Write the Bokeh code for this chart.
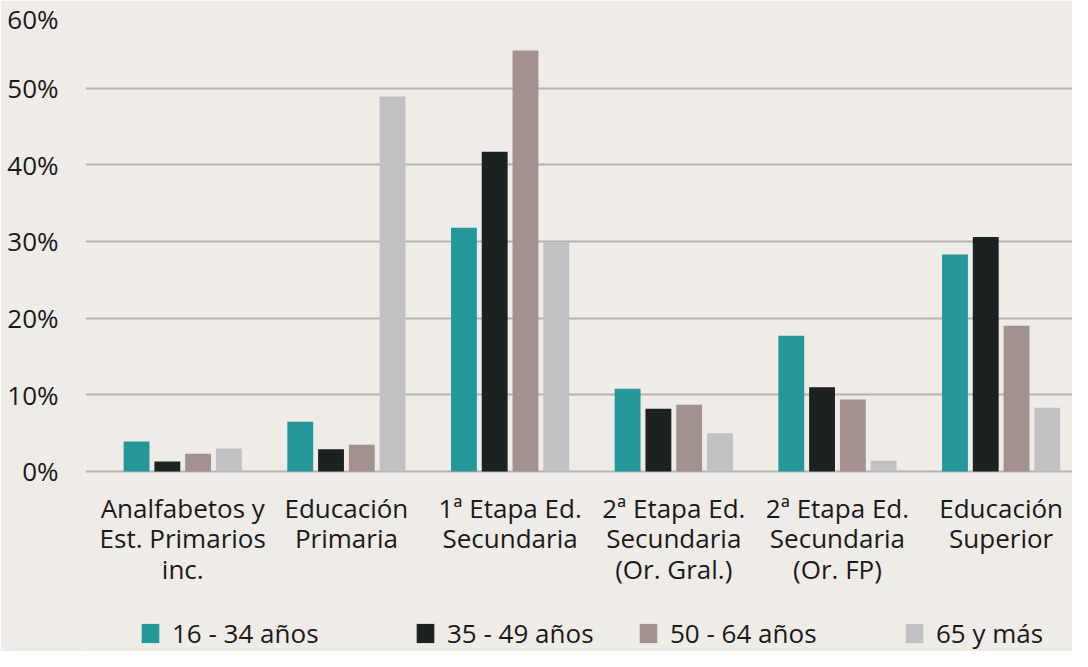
from bokeh.plotting import figure
from bokeh.models import Range1d, FixedTicker, PrintfTickFormatter, Legend, LegendItem
from bokeh.core.properties import value
from bokeh.embed import file_html
from bokeh.resources import INLINE

categories = [
    "Analfabetos y\nEst. Primarios\ninc.",
    "Educación\nPrimaria",
    "1ª Etapa Ed.\nSecundaria",
    "2ª Etapa Ed.\nSecundaria\n(Or. Gral.)",
    "2ª Etapa Ed.\nSecundaria\n(Or. FP)",
    "Educación\nSuperior",
]
series_names = ["16 - 34 años", "35 - 49 años", "50 - 64 años", "65 y más"]
s_16_34 = [3.9, 6.5, 31.8, 10.8, 17.7, 28.3]
s_35_49 = [1.3, 2.9, 41.7, 8.2, 11.0, 30.6]
s_50_64 = [2.3, 3.5, 54.9, 8.7, 9.4, 19.0]
s_65 = [3.0, 48.9, 29.9, 5.0, 1.4, 8.3]
y_ticks = [0, 10, 20, 30, 40, 50, 60]

colors = ["#23979a", "#1c2121", "#a2918e", "#c1c0c2"]
BG = "#efebe7"
FONT = "Open Sans"
TXT = "#1a1a1a"

p = figure(width=1072, height=651, output_backend="svg", toolbar_location=None,
           x_range=Range1d(-0.594, 5.436), y_range=Range1d(-23.48, 60),
           min_border_left=85, min_border_right=0, min_border_top=11, min_border_bottom=0)
p.background_fill_color = BG
p.border_fill_color = BG
p.outline_line_color = None

offsets = [-0.282, -0.094, 0.094, 0.282]
renderers = []
for vals, off, col in zip([s_16_34, s_35_49, s_50_64, s_65], offsets, colors):
    xs = [i + off for i in range(len(categories))]
    r = p.vbar(x=xs, top=vals, width=0.158, bottom=0, fill_color=col, line_color=None)
    renderers.append(r)

# category labels below the baseline
p.text(x=list(range(len(categories))), y=[-2.4] * len(categories), text=categories,
       text_align="center", text_baseline="top", text_font=value(FONT),
       text_font_size="26px", text_color=TXT, text_line_height=0.85)

p.xgrid.grid_line_color = None
p.ygrid.grid_line_color = "#b5b3b1"
p.ygrid.grid_line_width = 2
p.ygrid.ticker = FixedTicker(ticks=y_ticks)

p.xaxis.visible = False

p.yaxis.ticker = FixedTicker(ticks=y_ticks)
p.yaxis.formatter = PrintfTickFormatter(format="%d%%")
p.yaxis.axis_line_color = None
p.yaxis.major_tick_line_color = None
p.yaxis.minor_tick_line_color = None
p.yaxis.major_label_standoff = 21
p.yaxis.major_label_text_font = FONT
p.yaxis.major_label_text_font_size = "26px"
p.yaxis.major_label_text_color = TXT

legend_x = [54, 329, 552, 818]
for name, r, lx in zip(series_names, renderers, legend_x):
    lg = Legend(items=[LegendItem(label=name, renderers=[r])],
                orientation="horizontal", location=(lx, 0))
    lg.background_fill_alpha = 0
    lg.border_line_color = None
    lg.padding = 0
    lg.margin = 0
    lg.glyph_width = 22
    lg.glyph_height = 24
    lg.label_height = 24
    lg.label_standoff = 11
    lg.label_text_font = FONT
    lg.label_text_font_size = "26px"
    lg.label_text_color = TXT
    p.add_layout(lg, "center")

open("out.html", "w").write(file_html(p, INLINE))
